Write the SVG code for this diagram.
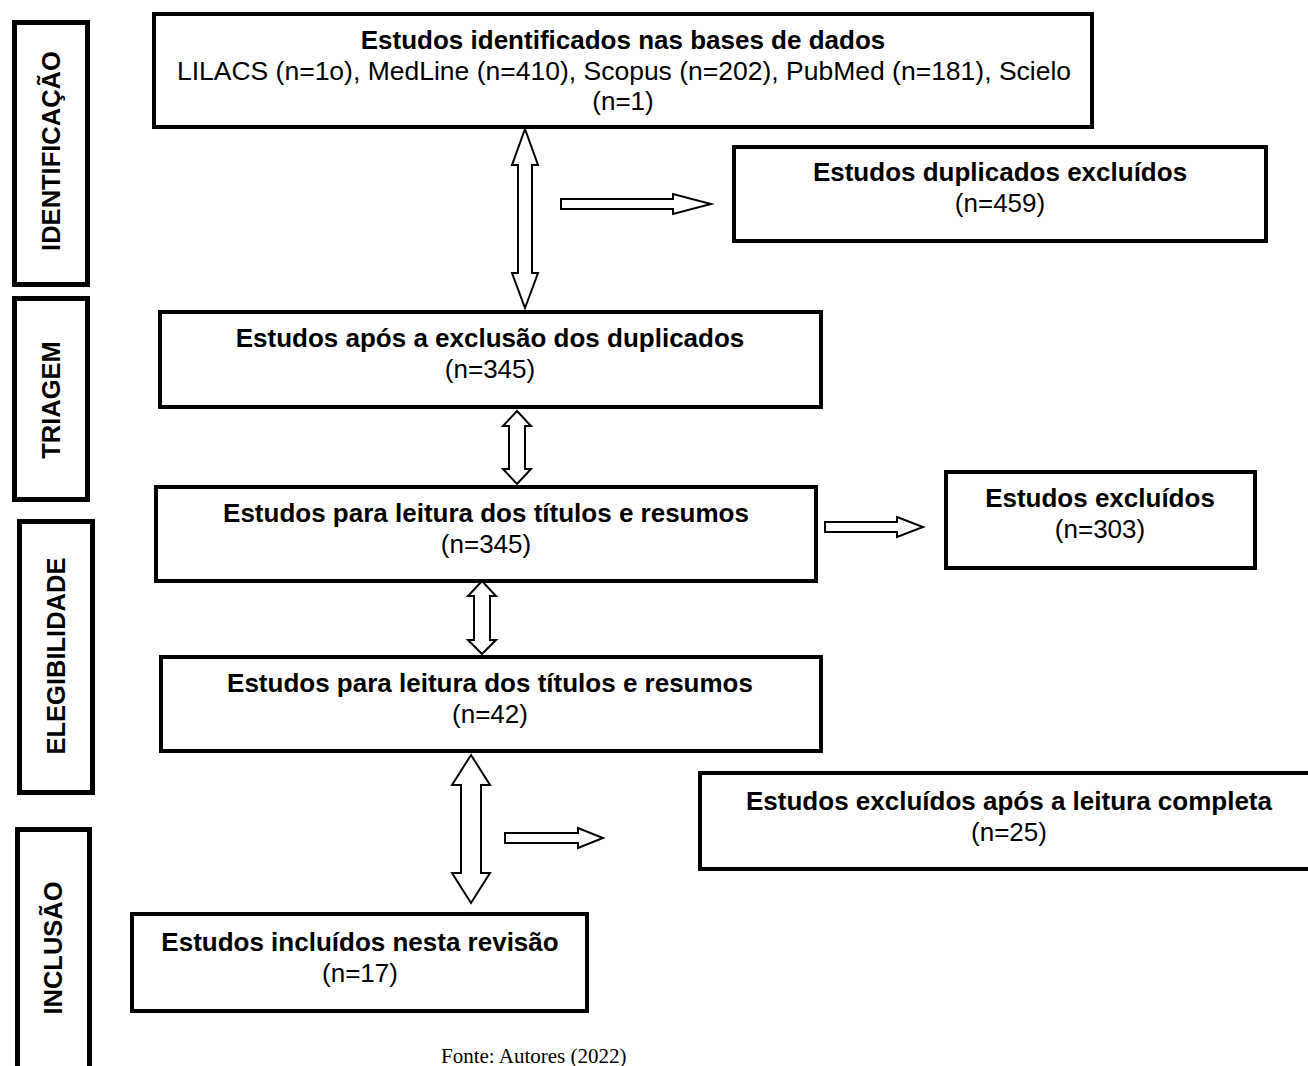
<svg xmlns="http://www.w3.org/2000/svg" width="1308" height="1066" viewBox="0 0 1308 1066">
  <style>
    .box { fill: #ffffff; stroke: #000000; stroke-width: 4; }
    .side { fill: #ffffff; stroke: #000000; stroke-width: 5; }
    .arrow { fill: #ffffff; stroke: #000000; stroke-width: 2; stroke-linejoin: miter; }
    .t { font-family: "Liberation Sans", Arial, sans-serif; font-size: 26px; fill: #000000; text-anchor: middle; }
    .r { font-size: 26.5px; }
    .b { font-weight: bold; }
    .st { font-family: "Liberation Sans", Arial, sans-serif; font-size: 25.5px; font-weight: bold; fill: #000000; text-anchor: middle; }
    .src { font-family: "Liberation Serif", "Times New Roman", serif; font-size: 21px; fill: #000000; }
  </style>
  <rect x="0" y="0" width="1308" height="1066" fill="#ffffff"/>

  <!-- Stage labels -->
  <g id="stage-identificacao">
    <rect class="side" x="14.5" y="22.5" width="73" height="262"/>
    <text class="st" transform="translate(60,151) rotate(-90)">IDENTIFICAÇÃO</text>
  </g>
  <g id="stage-triagem">
    <rect class="side" x="14.5" y="298.5" width="73" height="201"/>
    <text class="st" transform="translate(60,400) rotate(-90)">TRIAGEM</text>
  </g>
  <g id="stage-elegibilidade">
    <rect class="side" x="19.5" y="521.5" width="73" height="271"/>
    <text class="st" transform="translate(65,656) rotate(-90)">ELEGIBILIDADE</text>
  </g>
  <g id="stage-inclusao">
    <rect class="side" x="17.5" y="829.5" width="72" height="260"/>
    <text class="st" transform="translate(62,948) rotate(-90)">INCLUSÃO</text>
  </g>

  <!-- Nodes -->
  <g id="node-identificados">
    <rect class="box" x="154" y="14" width="938" height="113"/>
    <text class="t b" x="623" y="49">Estudos identificados nas bases de dados</text>
    <text class="t r" x="624" y="80">LILACS (n=1o), MedLine (n=410), Scopus (n=202), PubMed (n=181), Scielo</text>
    <text class="t" x="623" y="110">(n=1)</text>
  </g>
  <g id="node-duplicados">
    <rect class="box" x="734" y="147" width="532" height="94"/>
    <text class="t b" x="1000" y="181">Estudos duplicados excluídos</text>
    <text class="t" x="1000" y="212">(n=459)</text>
  </g>
  <g id="node-apos-exclusao">
    <rect class="box" x="160" y="312" width="661" height="95"/>
    <text class="t b" x="490" y="347">Estudos após a exclusão dos duplicados</text>
    <text class="t" x="490" y="378">(n=345)</text>
  </g>
  <g id="node-leitura-345">
    <rect class="box" x="156" y="487" width="660" height="94"/>
    <text class="t b" x="486" y="522">Estudos para leitura dos títulos e resumos</text>
    <text class="t" x="486" y="553">(n=345)</text>
  </g>
  <g id="node-excluidos-303">
    <rect class="box" x="946" y="472" width="309" height="96"/>
    <text class="t b" x="1100" y="507">Estudos excluídos</text>
    <text class="t" x="1100" y="538">(n=303)</text>
  </g>
  <g id="node-leitura-42">
    <rect class="box" x="161" y="657" width="660" height="94"/>
    <text class="t b" x="490" y="692">Estudos para leitura dos títulos e resumos</text>
    <text class="t" x="490" y="723">(n=42)</text>
  </g>
  <g id="node-excluidos-25">
    <rect class="box" x="700" y="773" width="620" height="96"/>
    <text class="t b" x="1009" y="810">Estudos excluídos após a leitura completa</text>
    <text class="t" x="1009" y="841">(n=25)</text>
  </g>
  <g id="node-incluidos">
    <rect class="box" x="132" y="914" width="455" height="97"/>
    <text class="t b" x="360" y="951">Estudos incluídos nesta revisão</text>
    <text class="t" x="360" y="982">(n=17)</text>
  </g>

  <!-- Connectors -->
  <g id="connectors">
    <path class="arrow" d="M525,129 L538,165 L532,165 L532,273 L538,273 L525,308 L512,273 L518,273 L518,165 L512,165 Z"/>
    <path class="arrow" d="M561,199 L673,199 L673,194 L711,204 L673,214 L673,209 L561,209 Z"/>
    <path class="arrow" d="M517,411 L531,426 L525,426 L525,469 L531,469 L517,484 L503,469 L509,469 L509,426 L503,426 Z"/>
    <path class="arrow" d="M825,522 L897,522 L897,517 L923,527 L897,537 L897,532 L825,532 Z"/>
    <path class="arrow" d="M482,581 L496,596 L490,596 L490,640 L496,640 L482,654 L468,640 L474,640 L474,596 L468,596 Z"/>
    <path class="arrow" d="M471,755 L490,785 L481,785 L481,873 L490,873 L471,903 L452,873 L461,873 L461,785 L452,785 Z"/>
    <path class="arrow" d="M505,833 L578,833 L578,828 L603,838 L578,848 L578,843 L505,843 Z"/>
  </g>

  <text class="src" x="441" y="1063">Fonte: Autores (2022)</text>
</svg>
